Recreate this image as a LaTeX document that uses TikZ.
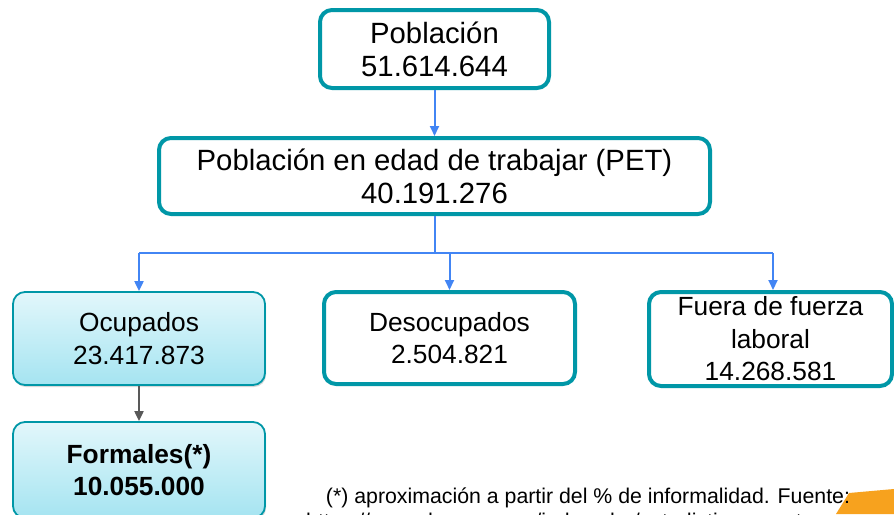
\documentclass[tikz,border=0pt]{standalone}
\usepackage{fontspec}
\setmainfont{Liberation Sans}
\usetikzlibrary{arrows.meta,shadows}
\definecolor{tealb}{RGB}{0,151,167}
\definecolor{arrblue}{RGB}{66,133,244}
\definecolor{arrgray}{RGB}{89,89,89}
\definecolor{cyantop}{RGB}{226,247,251}
\definecolor{cyanbot}{RGB}{165,228,241}
\definecolor{orng}{RGB}{247,162,30}
\tikzset{
  boxthick/.style={draw=tealb, line width=4pt, rounded corners=12pt, fill=white, align=center,
    font=\fontsize{26.3}{32.5}\selectfont, inner sep=0pt},
  bigtext/.style={font=\fontsize{29.3}{33}\selectfont},
  boxgrad/.style={draw=tealb, line width=1.8pt, rounded corners=12pt, top color=cyantop, bottom color=cyanbot,
    align=center, font=\fontsize{26.3}{32.5}\selectfont, inner sep=0pt,
    drop shadow={shadow xshift=1pt, shadow yshift=-2pt, opacity=0.25, fill=black!60}},
  bline/.style={draw=arrblue, line width=2pt},
  barrow/.style={bline, -{Triangle[length=10pt,width=9pt]}},
  garrow/.style={draw=arrgray, line width=2pt, -{Triangle[length=10pt,width=9pt]}},
  notetext/.style={font=\fontsize{21.3}{21}\selectfont, inner sep=0pt}
}
\begin{document}
\begin{tikzpicture}[x=1pt,y=-1pt]
\useasboundingbox (0,0) rectangle (894,514);
\clip (0,0) rectangle (894,514);
\fill[white] (0,0) rectangle (894,514);

\node[boxthick, bigtext, minimum width=229pt, minimum height=78pt] (pob) at (434.5,49) {Población\\51.614.644};
\node[boxthick, bigtext, minimum width=551pt, minimum height=76pt] (pet) at (434.5,176) {Población en edad de trabajar (PET)\\40.191.276};
\node[boxgrad, minimum width=252pt, minimum height=93pt] (ocu) at (139,338.5) {Ocupados\\23.417.873};
\node[boxgrad, minimum width=252pt, minimum height=96pt, font=\fontsize{26.3}{32.5}\selectfont\bfseries] (form) at (139,470) {Formales(*)\\10.055.000};
\node[boxthick, minimum width=251pt, minimum height=92pt] (des) at (449.5,338) {Desocupados\\2.504.821};
\node[boxthick, minimum width=243pt, minimum height=94pt] (fue) at (770.5,339) {Fuera de fuerza\\laboral\\14.268.581};

\draw[barrow] (pob.south) -- (pet.north);
\coordinate (j) at (434.5,253);
\coordinate (jl) at (139,253);
\coordinate (jm) at (449.5,253);
\coordinate (jr) at (773,253);
\draw[bline] (pet.south) -- (j);
\draw[bline] (jl) -- (jr);
\draw[barrow] (jl) -- (ocu.north);
\draw[barrow] (jm) -- (des.north);
\draw[barrow] (jr) -- (jr |- fue.north);
\draw[garrow] (ocu.south) -- (form.north);

\fill[orng] (849,493) -- (894,489) -- (894,514) -- (836,514) -- cycle;
\node[notetext, anchor=base] (note) at (588,503) {(*) aproximación a partir del \% de informalidad. Fuente:};
\node[notetext, anchor=base west] (url) at (306,528) {https://www.dane.gov.co/index.php/estadisticas-por-tema};
\end{tikzpicture}
\end{document}
